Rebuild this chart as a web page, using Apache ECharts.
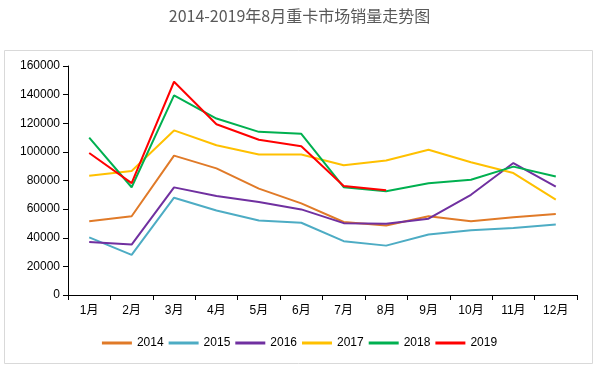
<!DOCTYPE html>
<html><head><meta charset="utf-8">
<script src="https://cdn.jsdelivr.net/npm/echarts@6/dist/echarts.min.js"></script>
<style>html,body{margin:0;padding:0;background:#fff}#c{width:599px;height:367px}</style>
</head><body><div id="c"></div>
<script>
var categories = ['1月','2月','3月','4月','5月','6月','7月','8月','9月','10月','11月','12月'];
var yTicks = [0,20000,40000,60000,80000,100000,120000,140000,160000];
var s2014 = [51500,55000,97400,88500,74300,64000,51000,48500,55000,51500,54300,56600];
var s2015 = [40300,28000,68000,59000,52000,50500,37600,34500,42300,45300,46800,49200];
var s2016 = [37100,35200,75200,69100,65000,59800,50200,49800,53300,70000,92200,75700];
var s2017 = [83400,86600,115000,104600,98100,98200,90600,94000,101500,92800,85200,66600];
var s2018 = [110000,75300,139500,123300,114000,112600,75300,72500,78100,80500,89700,82800];
var s2019 = [99200,78200,149000,119300,108500,104000,76200,73200];
var names = ['2014','2015','2016','2017','2018','2019'];
var colors = ['#E07A28','#4DACC4','#7030A0','#FFC000','#00B050','#FF0000'];
var datas = [s2014,s2015,s2016,s2017,s2018,s2019];

var font = "'Liberation Sans','Noto Sans CJK SC',sans-serif";
var chart = echarts.init(document.getElementById('c'));
chart.setOption({
  animation:false,
  title:{text:'2014-2019年8月重卡市场销量走势图',left:'center',top:3,
    textStyle:{fontSize:16,fontWeight:'normal',color:'#595959',fontFamily:"'Noto Sans CJK SC',sans-serif"}},
  graphic:[{type:'rect',shape:{x:4.5,y:50.5,width:588,height:313},
    style:{fill:null,stroke:'#d9d9d9',lineWidth:1},silent:true,z:-1}],
  legend:{data:names,top:332,left:'center',icon:'rect',itemWidth:30,itemHeight:3,itemGap:5,
    textStyle:{fontSize:12,color:'#000',fontFamily:font}},
  grid:{left:68,right:22,top:66,bottom:72},
  xAxis:{type:'category',data:categories,boundaryGap:true,
    axisLine:{lineStyle:{color:'#000',width:1}},
    axisTick:{show:true,alignWithLabel:false,length:5,lineStyle:{color:'#000'}},
    axisLabel:{color:'#000',fontSize:12,margin:10,fontFamily:font,interval:0}},
  yAxis:{type:'value',min:0,max:160000,interval:20000,
    axisLine:{show:true,lineStyle:{color:'#000',width:1}},
    axisTick:{show:true,length:5,inside:false,lineStyle:{color:'#000'}},
    splitLine:{show:false},
    axisLabel:{color:'#000',fontSize:12,margin:8,fontFamily:font,formatter:function(v){return String(v);}}},
  series:datas.map(function(d,i){return {name:names[i],type:'line',data:d,symbol:'none',
    lineStyle:{width:2,color:colors[i]},itemStyle:{color:colors[i]}};})
});
</script></body></html>
